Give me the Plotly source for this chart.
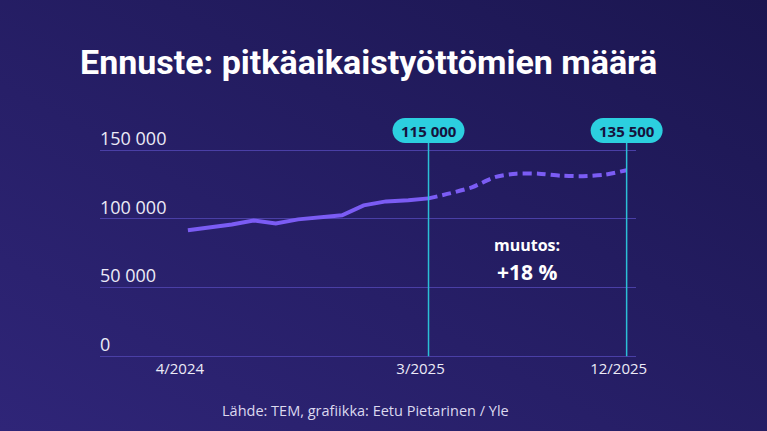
import base64
import plotly.graph_objects as go
import pandas as pd

# ---- data ----
actual_dates = ["2024-04-01", "2024-05-01", "2024-06-01", "2024-07-01", "2024-08-01", "2024-09-01",
                "2024-10-01", "2024-11-01", "2024-12-01", "2025-01-01", "2025-02-01", "2025-03-01"]
actual_values = [91800, 93900, 96000, 98900, 96800, 99700, 101200, 102700, 109900, 112800, 113600, 115000]

forecast_dates = ["2025-03-01", "2025-04-01", "2025-05-01", "2025-06-01", "2025-07-01", "2025-08-01",
                  "2025-09-01", "2025-10-01", "2025-11-01", "2025-12-01"]
forecast_values = [115000, 118800, 123200, 130400, 133000, 133000, 131500, 131200, 132300, 135500]

x_tick_vals = ["2024-04-01", "2025-03-01", "2025-12-01"]
x_tick_text = ["4/2024", "3/2025", "12/2025"]
y_tick_vals = [0, 50000, 100000, 150000]
y_tick_text = ["0", "50 000", "100 000", "150 000"]

marker_dates = ["2025-03-01", "2025-12-01"]
marker_labels = ["115 000", "135 500"]

title = "Ennuste: pitkäaikaistyöttömien määrä"
change_label = "muutos:"
change_value = "+18 %"
source = "Lähde: TEM, grafiikka: Eetu Pietarinen / Yle"

# ---- layout geometry ----
W, H = 767, 431
ML, MR, MT, MB = 100, 131, 116, 72
PW, PH = W - ML - MR, H - MT - MB
X_RANGE = ["2023-12-01", "2025-12-14"]
Y_RANGE = [-2000, 175000]

LINE = "#7b5cf4"
CYAN = "#2ccfdf"
CYAN_LINE = "#2bbfd6"
GRID = "#4a3fa6"
TXT = "#ecebf7"

svg = (f"<svg xmlns='http://www.w3.org/2000/svg' width='{W}' height='{H}'>"
       "<defs><linearGradient id='g' x1='0' y1='1' x2='1' y2='0'>"
       "<stop offset='0' stop-color='#2f2578'/><stop offset='1' stop-color='#1b1650'/>"
       "</linearGradient></defs>"
       f"<rect width='{W}' height='{H}' fill='url(#g)'/></svg>")
bg_src = "data:image/svg+xml;base64," + base64.b64encode(svg.encode()).decode()


def date_to_paper(d):
    t0, t1 = pd.Timestamp(X_RANGE[0]), pd.Timestamp(X_RANGE[1])
    return (pd.Timestamp(d) - t0) / (t1 - t0)


def yval_to_paper(v):
    return (v - Y_RANGE[0]) / (Y_RANGE[1] - Y_RANGE[0])


fig = go.Figure()
fig.add_trace(go.Scatter(x=actual_dates, y=actual_values, mode="lines",
                         line=dict(color=LINE, width=4), hoverinfo="skip", cliponaxis=False))
fig.add_trace(go.Scatter(x=forecast_dates, y=forecast_values, mode="lines",
                         line=dict(color=LINE, width=4, dash="9px,5px", shape="spline", smoothing=0.7),
                         hoverinfo="skip", cliponaxis=False))

# badges and vertical lines
badge_y = 1 + (MT - 130.5) / PH
k = 0.5523
r = 12.5
a = 36 - r
pill = (f"M {-a},{-r} L {a},{-r} "
        f"C {a + k*r},{-r} {a + r},{-k*r} {a + r},0 "
        f"C {a + r},{k*r} {a + k*r},{r} {a},{r} "
        f"L {-a},{r} "
        f"C {-a - k*r},{r} {-a - r},{k*r} {-a - r},0 "
        f"C {-a - r},{-k*r} {-a - k*r},{-r} {-a},{-r} Z")
for d, lab in zip(marker_dates, marker_labels):
    fig.add_shape(type="line", xref="x", yref="paper", x0=d, x1=d, y0=yval_to_paper(0), y1=badge_y,
                  line=dict(color=CYAN_LINE, width=1.5), layer="above")
    fig.add_shape(type="path", xref="paper", yref="paper", xsizemode="pixel", ysizemode="pixel",
                  xanchor=date_to_paper(d), yanchor=badge_y, path=pill, fillcolor=CYAN,
                  line=dict(width=0), layer="above")
    fig.add_annotation(x=d, y=badge_y, xref="x", yref="paper", text=f"<b>{lab}</b>",
                       showarrow=False, font=dict(family="Open Sans", size=15, color="#16123d"),
                       xanchor="center", yanchor="middle")

fig.add_annotation(x=(527 - ML) / PW, y=1 - (245 - MT) / PH, xref="paper", yref="paper",
                   text=f"<b>{change_label}</b>", showarrow=False,
                   font=dict(family="Open Sans", size=16, color="#ffffff"), xanchor="center", yanchor="middle")
fig.add_annotation(x=(527 - ML) / PW, y=1 - (272 - MT) / PH, xref="paper", yref="paper",
                   text=f"<b>{change_value}</b>", showarrow=False,
                   font=dict(family="Open Sans", size=21, color="#ffffff"), xanchor="center", yanchor="middle")
fig.add_annotation(x=(365.5 - ML) / PW, y=1 - (410 - MT) / PH, xref="paper", yref="paper",
                   text=source, showarrow=False,
                   font=dict(family="Open Sans", size=14.5, color="#dcd9ef"), xanchor="center", yanchor="middle")

fig.add_layout_image(source=bg_src, xref="paper", yref="paper", x=-ML / PW, y=1 + MT / PH,
                     sizex=W / PW, sizey=H / PH, xanchor="left", yanchor="top",
                     sizing="stretch", layer="below")

fig.update_layout(
    width=W, height=H, margin=dict(l=ML, r=MR, t=MT, b=MB),
    paper_bgcolor="#241c62", plot_bgcolor="rgba(0,0,0,0)",
    showlegend=False,
    title=dict(text=f"<b>{title}</b>", xref="container", yref="container",
               x=80 / W, xanchor="left", y=1 - 62 / H, yanchor="middle",
               font=dict(family="Roboto", size=34, color="#ffffff")),
    xaxis=dict(type="date", range=X_RANGE, showgrid=False, zeroline=False,
               showline=False, tickvals=x_tick_vals, ticktext=x_tick_text, ticks="",
               tickfont=dict(family="Open Sans", size=15, color=TXT), ticklabelshift=-8,
               ticklabelstandoff=-1),
    yaxis=dict(range=Y_RANGE, tickvals=y_tick_vals, ticktext=y_tick_text, showgrid=True,
               gridcolor=GRID, gridwidth=1, zeroline=False, showline=False, ticks="",
               ticklabelposition="inside top", ticklabelshift=1, ticklabelstandoff=-3,
               tickfont=dict(family="Open Sans", size=18, color=TXT)),
)

fig.write_html("out.html", config={"displayModeBar": False})
